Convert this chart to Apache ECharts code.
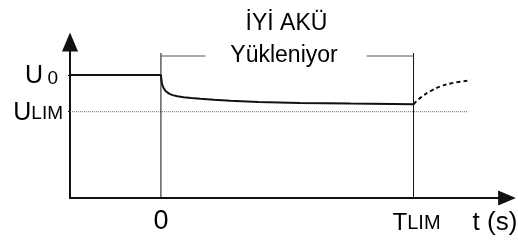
<!DOCTYPE html>
<html style="height: 100%">
  <head>
    <meta charset="UTF-8">
  </head>
  <body style="height: 100%; margin: 0; background: #fff">
    <div id="container" style="width: 518px; height: 240px"></div>
    <script src="https://cdn.jsdelivr.net/npm/echarts@6.0.0/dist/echarts.min.js"></script>
    <script>
    // axis range (time units: 0 = load start, 100 = TLIM)
    var tMin = -36, tMax = 137;
    var uMin = 0, uMax = 156;

    var xTickValues = [0, 100];
    var xTickLabels = ['{z|0}', '{b|T}{s|LIM}'];
    var yTickValues = [86.3, 123];
    var yTickLabels = ['{b|U}{s|LIM}', ''];
    var u0Parts = ['U', '0'];

    var u0 = 123, uLim = 86.3;

    // voltage under load
    var loadT = [-36, 0, 0.15, 0.35, 0.6, 0.9, 1.3, 1.8, 2.5, 3.4, 4.6, 6.5, 9, 12, 15.6, 21, 27.5, 38.6, 55, 75, 100];
    var loadU = [123, 123, 119, 115.5, 113, 110.8, 108.8, 107, 105.4, 104.1, 102.9, 101.8, 100.8, 100, 99.2, 98.2, 97.2, 96, 95.1, 94.4, 93.8];

    // recovery after the load is removed
    var recT = [100, 102.8, 106.8, 110.7, 114.7, 121.3];
    var recU = [93.8, 100.4, 107, 111.6, 114.6, 117.3];

    var markerTop = 145, bracketU = 142;
    var bracketLeft = [0, 17.6], bracketRight = [81.4, 100];

    function pairs(xs, ys) {
      return xs.map(function (x, i) { return [x, ys[i]]; });
    }

    var black = '#111';
    var ink = '#000';
    var font = 'Liberation Sans';

    var dom = document.getElementById('container');
    var myChart = echarts.init(dom, null, { renderer: 'canvas' });

    var option = {
      animation: false,
      grid: { left: 70, right: 11, top: 42, bottom: 42 },
      xAxis: {
        type: 'value',
        min: tMin,
        max: tMax,
        axisLine: {
          onZero: false,
          symbol: ['none', 'path://M8,0L16,19L0,19Z'],
          symbolSize: [15, 18],
          lineStyle: { color: black, width: 2 }
        },
        axisTick: { show: false },
        splitLine: { show: false },
        axisLabel: {
          customValues: xTickValues,
          margin: 6,
          formatter: function (v) { return xTickLabels[xTickValues.indexOf(v)]; },
          rich: {
            z: { fontFamily: font, fontSize: 27, lineHeight: 31, color: ink, verticalAlign: 'bottom' },
            b: { fontFamily: font, fontSize: 24, lineHeight: 31, color: ink, verticalAlign: 'bottom', padding: [0, 0, 0, 6] },
            s: { fontFamily: font, fontSize: 20, color: ink, verticalAlign: 'bottom', padding: [0, 0, 2, 0] }
          }
        }
      },
      yAxis: {
        type: 'value',
        min: uMin,
        max: uMax,
        axisLine: {
          show: true,
          onZero: false,
          symbol: ['none', 'path://M8,0L16,19L0,19Z'],
          symbolSize: [16, 19],
          lineStyle: { color: black, width: 2 }
        },
        axisTick: {
          show: true,
          customValues: yTickValues,
          length: 2,
          lineStyle: { color: black, width: 1 }
        },
        splitLine: { show: false },
        axisLabel: {
          customValues: [yTickValues[0]],
          margin: 7,
          formatter: function (v) { return yTickLabels[yTickValues.indexOf(v)]; },
          rich: {
            b: { fontFamily: font, fontSize: 25, lineHeight: 27, color: ink, verticalAlign: 'bottom' },
            s: { fontFamily: font, fontSize: 19, color: ink, verticalAlign: 'bottom', padding: [0, 0, 2, 0] }
          }
        }
      },
      graphic: [
        { type: 'text', x: 286.5, y: 23.5, style: { text: 'İYİ AKÜ', font: '23px "Liberation Sans"', fill: ink, align: 'center', verticalAlign: 'middle' } },
        { type: 'text', x: 284, y: 55.5, style: { text: 'Yükleniyor', font: '23px "Liberation Sans"', fill: ink, align: 'center', verticalAlign: 'middle' } },
        { type: 'text', x: 495, y: 222.5, style: { text: 't (s)', font: '26px "Liberation Sans"', fill: ink, align: 'center', verticalAlign: 'middle' } },
        // U0 label next to the U0 level
        { type: 'text', x: 25, y: 76.3, style: { text: u0Parts[0], font: '25px "Liberation Sans"', fill: ink, align: 'left', verticalAlign: 'middle' } },
        { type: 'text', x: 47.5, y: 78.4, style: { text: u0Parts[1], font: '19px "Liberation Sans"', fill: ink, align: 'left', verticalAlign: 'middle' } }
      ],
      series: [
        {
          type: 'line', symbol: 'none', silent: true,
          data: pairs([tMin, recT[recT.length - 1]], [uLim, uLim]),
          lineStyle: { color: '#666', width: 1, type: [1, 1] }
        },
        {
          type: 'line', symbol: 'none', silent: true,
          data: [[xTickValues[0], uMin], [xTickValues[0], markerTop]],
          lineStyle: { color: black, width: 1 }
        },
        {
          type: 'line', symbol: 'none', silent: true,
          data: [[xTickValues[1], uMin], [xTickValues[1], markerTop]],
          lineStyle: { color: black, width: 1 }
        },
        {
          type: 'line', symbol: 'none', silent: true,
          data: pairs(bracketLeft, [bracketU, bracketU]),
          lineStyle: { color: '#555', width: 1 }
        },
        {
          type: 'line', symbol: 'none', silent: true,
          data: pairs(bracketRight, [bracketU, bracketU]),
          lineStyle: { color: '#555', width: 1 }
        },
        {
          type: 'line', symbol: 'none', silent: true,
          data: pairs(loadT, loadU),
          lineStyle: { color: black, width: 2 }
        },
        {
          type: 'line', symbol: 'none', silent: true, smooth: 0.4,
          data: pairs(recT, recU),
          lineStyle: { color: black, width: 2, type: [4, 3] }
        }
      ]
    };

    myChart.setOption(option);
    window.addEventListener('resize', myChart.resize);
    </script>
  </body>
</html>
